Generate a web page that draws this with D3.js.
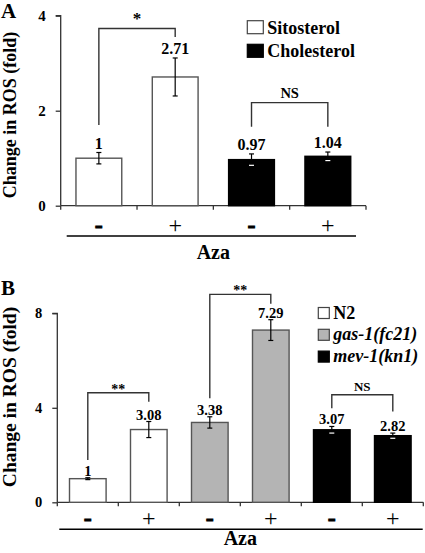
<!DOCTYPE html>
<html><head><meta charset="utf-8">
<script src="https://cdn.jsdelivr.net/npm/d3@7"></script>
<style>
body{margin:0;background:#fff;}
svg{display:block;font-family:"Liberation Serif","Times New Roman","DejaVu Serif",serif;font-weight:bold;}
svg text{font-family:"Liberation Serif","Times New Roman","DejaVu Serif",serif;}
</style></head>
<body><svg id="c" width="425" height="553"></svg>
<script>
// ---- Panel A data ----
const catsA = ["Sito-","Sito+","Chol-","Chol+"];
const valsA = [1, 2.71, 0.97, 1.04];
const errsA = [0.12, 0.40, 0.12, 0.09];
const labelsA = ["1", "2.71", "0.97", "1.04"];
const groupA = ["Sitosterol", "Sitosterol", "Cholesterol", "Cholesterol"];
const signsA = ["-", "+", "-", "+"];
const legendA = ["Sitosterol", "Cholesterol"];
const ticksA = [0, 2, 4];
// brackets: [leftIdx, rightIdx, top, leftBottom, rightBottom, text]
const bracketsA = [[0, 1, 3.73, 1.70, 3.55, "*"], [2, 3, 2.17, 1.66, 1.66, "NS"]];

// ---- Panel B data ----
const catsB = ["N2-","N2+","gas-","gas+","mev-","mev+"];
const valsB = [1, 3.08, 3.38, 7.29, 3.07, 2.82];
const errsB = [0.04, 0.34, 0.24, 0.44, 0.14, 0.11];
const labelsB = ["1", "3.08", "3.38", "7.29", "3.07", "2.82"];
const groupB = ["N2", "N2", "gas-1(fc21)", "gas-1(fc21)", "mev-1(kn1)", "mev-1(kn1)"];
const signsB = ["-", "+", "-", "+", "-", "+"];
const legendB = ["N2", "gas-1(fc21)", "mev-1(kn1)"];
const ticksB = [0, 4, 8];
const bracketsB = [[0, 1, 4.64, 1.79, 4.26, "**"], [2, 3, 8.80, 4.40, 8.40, "**"], [4, 5, 4.55, 3.98, 3.84, "NS"]];

const fills = {"Sitosterol":"#ffffff","Cholesterol":"#000000","N2":"#ffffff","gas-1(fc21)":"#b4b4b4","mev-1(kn1)":"#000000"};
const italic = {"gas-1(fc21)":true,"mev-1(kn1)":true};

const svg = d3.select("#c");

function panel(o){
  const g = svg.append("g");
  const y = d3.scaleLinear().domain(o.ydom).range(o.yrange);
  const x = d3.scaleBand().domain(o.cats).range(o.xrange).paddingInner(0.4).paddingOuter(0.2);
  const base = y(0);
  // y axis
  const ya = d3.axisLeft(y).tickValues(o.ticks).tickSize(5).tickPadding(o.tickPad).tickFormat(d3.format("d"));
  const yg = g.append("g").attr("transform",`translate(${o.xrange[0]},0)`).call(ya);
  yg.attr("font-family",null);
  yg.select(".domain").attr("stroke","#333").attr("stroke-width",1.3).attr("d",`M-5,${y(o.ydom[1])}H0V${base}`);
  yg.selectAll(".tick line").attr("stroke","#333").attr("stroke-width",1.3);
  yg.selectAll(".tick text").attr("font-size",o.tickFont).attr("font-weight","bold").attr("fill","#000");
  // x axis line with boundary ticks
  g.append("line").attr("x1",o.xrange[0]).attr("x2",o.xrange[1]).attr("y1",base).attr("y2",base).attr("stroke","#333").attr("stroke-width",1.3);
  d3.range(o.cats.length+1).forEach(i=>{
    const xx = o.xrange[0] + i*x.step();
    g.append("line").attr("x1",xx).attr("x2",xx).attr("y1",base).attr("y2",base+4).attr("stroke","#333").attr("stroke-width",1.3);
  });
  // bars
  g.selectAll("rect.bar").data(o.cats).join("rect").attr("class","bar")
    .attr("x",d=>x(d)).attr("width",x.bandwidth())
    .attr("y",(d,i)=>y(o.vals[i])).attr("height",(d,i)=>base-y(o.vals[i]))
    .attr("fill",(d,i)=>fills[o.groups[i]]).attr("stroke",(d,i)=>fills[o.groups[i]]==="#000000"?"#000":"#555").attr("stroke-width",1.4);
  // error bars
  o.cats.forEach((c,i)=>{
    const cx = x(c)+x.bandwidth()/2, t=y(o.vals[i]+o.errs[i]), b=y(o.vals[i]-o.errs[i]);
    const dark = fills[o.groups[i]]==="#000000";
    g.append("line").attr("x1",cx).attr("x2",cx).attr("y1",t).attr("y2",b).attr("stroke","#000").attr("stroke-width",1.2);
    g.append("line").attr("x1",cx-2.5).attr("x2",cx+2.5).attr("y1",t).attr("y2",t).attr("stroke","#000").attr("stroke-width",1.2);
    g.append("line").attr("x1",cx-2.5).attr("x2",cx+2.5).attr("y1",b).attr("y2",b).attr("stroke",dark?"#fff":"#000").attr("stroke-width",1.2);
    g.append("text").attr("x",cx).attr("y",t-o.labOff).attr("text-anchor","middle").attr("font-size",o.labFont).text(o.labels[i]);
    // sign
    g.append("text").attr("x",cx).attr("y",o.signY).attr("text-anchor","middle").attr("dominant-baseline","central")
      .attr("font-size",o.signs[i]==="-"?o.minusFont:o.plusFont).attr("font-weight",o.signs[i]==="-"?"bold":"normal")
      .attr("stroke",o.signs[i]==="-"?"#000":"none").attr("stroke-width",o.signs[i]==="-"?0.9:0)
      .text(o.signs[i]);
  });
  // brackets
  o.brackets.forEach(bk=>{
    const xl = x(o.cats[bk[0]])+x.bandwidth()/2, xr = x(o.cats[bk[1]])+x.bandwidth()/2;
    g.append("path").attr("d",`M${xl},${y(bk[3])}V${y(bk[2])}H${xr}V${y(bk[4])}`).attr("fill","none").attr("stroke","#333").attr("stroke-width",1.4);
    const isStar = bk[5].indexOf("*")>=0;
    g.append("text").attr("x",(xl+xr)/2).attr("y",y(bk[2])-(isStar?o.starOff:o.nsOff)).attr("text-anchor","middle")
      .attr("font-size",isStar?o.starFont:o.nsFont).text(bk[5]);
  });
  // Aza line and label
  g.append("line").attr("x1",o.azaLine[0]).attr("x2",o.azaLine[1]).attr("y1",o.azaLineY).attr("y2",o.azaLineY).attr("stroke","#000").attr("stroke-width",1.5);
  g.append("text").attr("x",(o.xrange[0]+o.xrange[1])/2).attr("y",o.azaY).attr("text-anchor","middle").attr("font-size",20).text("Aza");
  // y label
  g.append("text").attr("transform",`translate(${o.ylabX},${o.ylabY}) rotate(-90)`).attr("text-anchor","middle").attr("dominant-baseline","central")
    .attr("font-size",o.ylabFont).text("Change in ROS (fold)");
  // panel letter
  g.append("text").attr("x",1).attr("y",o.letterY).attr("font-size",21).text(o.letter);
  // legend
  o.legend.forEach((name,i)=>{
    const ly = o.legY + i*o.legStep;
    g.append("rect").attr("x",o.legX).attr("y",ly).attr("width",o.boxW).attr("height",o.boxH)
      .attr("fill",fills[name]).attr("stroke",fills[name]==="#000000"?"#000":"#444").attr("stroke-width",1.2);
    g.append("text").attr("x",o.legX+o.boxW+4).attr("y",ly+o.boxH).attr("font-size",18)
      .attr("font-style",italic[name]?"italic":"normal").text(name);
  });
}

panel({cats:catsA, vals:valsA, errs:errsA, labels:labelsA, groups:groupA, signs:signsA, legend:legendA, ticks:ticksA, brackets:bracketsA,
  ydom:[0,4], yrange:[205.7,15.7], xrange:[60.7,366], tickPad:10, tickFont:15, labFont:16, labOff:4,
  signY:225, minusFont:24, plusFont:24, starOff:5, nsOff:5, starFont:17, nsFont:14.5,
  azaLine:[66.7,356], azaLineY:236, azaY:259, ylabX:10, ylabY:115, ylabFont:18, letter:"A", letterY:18,
  legX:247.3, legY:20.7, legStep:23.6, boxW:16, boxH:13});

panel({cats:catsB, vals:valsB, errs:errsB, labels:labelsB, groups:groupB, signs:signsB, legend:legendB, ticks:ticksB, brackets:bracketsB,
  ydom:[0,8], yrange:[502.3,313.3], xrange:[57.3,423.3], tickPad:10, tickFont:14.5, labFont:14.5, labOff:2,
  signY:518, minusFont:24, plusFont:24, starOff:-1, nsOff:4, starFont:14, nsFont:13,
  azaLine:[59.3,422.7], azaLineY:529.3, azaY:545, ylabX:9.5, ylabY:397, ylabFont:19.5, letter:"B", letterY:295,
  legX:318.3, legY:307.5, legStep:21.8, boxW:11, boxH:11});
</script>
</body></html>
